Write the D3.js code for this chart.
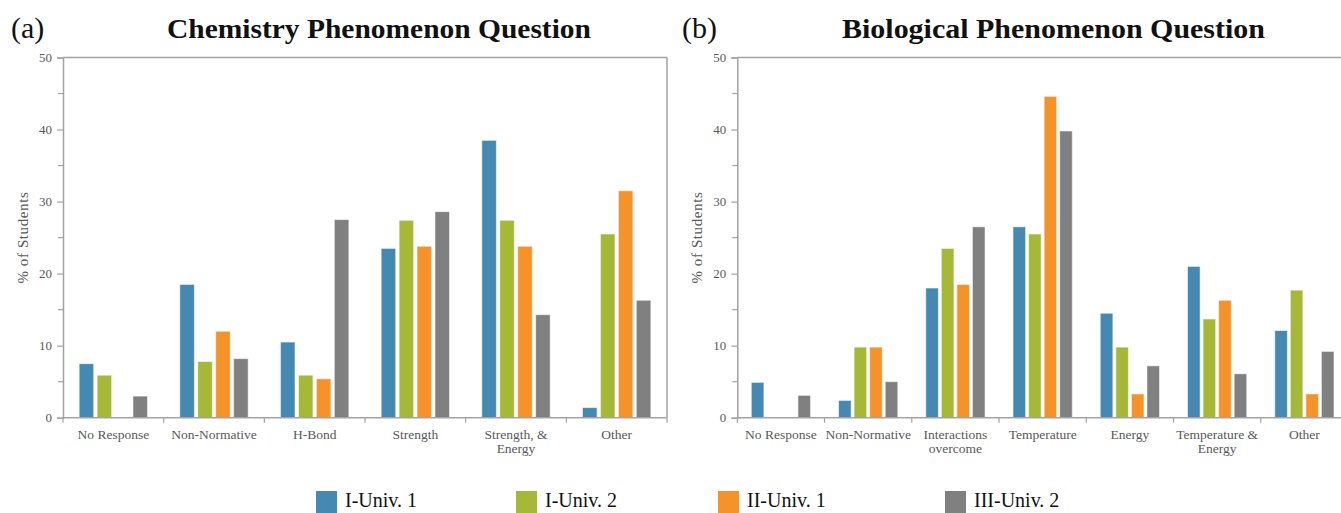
<!DOCTYPE html>
<html><head><meta charset="utf-8">
<script src="https://cdn.jsdelivr.net/npm/d3@7"></script>
<style>body{margin:0;background:#fff}svg{display:block}</style>
</head><body>
<svg id="c" width="1341" height="513"></svg>
<script>
const series = ["I-Univ. 1","I-Univ. 2","II-Univ. 1","III-Univ. 2"];
const colors = ["#4588B1","#A6B838","#F5922A","#808080"];

const chemCategories = [["No Response"],["Non-Normative"],["H-Bond"],["Strength"],["Strength, &","Energy"],["Other"]];
const chemUniv1I  = [7.5, 18.5, 10.5, 23.5, 38.5, 1.4];
const chemUniv2I  = [5.9, 7.8, 5.9, 27.4, 27.4, 25.5];
const chemUniv1II = [0, 12.0, 5.4, 23.8, 23.8, 31.5];
const chemUniv2III= [3.0, 8.2, 27.5, 28.6, 14.3, 16.3];

const bioCategories = [["No Response"],["Non-Normative"],["Interactions","overcome"],["Temperature"],["Energy"],["Temperature &","Energy"],["Other"]];
const bioUniv1I  = [4.9, 2.4, 18.0, 26.5, 14.5, 21.0, 12.1];
const bioUniv2I  = [0, 9.8, 23.5, 25.5, 9.8, 13.7, 17.7];
const bioUniv1II = [0, 9.8, 18.5, 44.6, 3.3, 16.3, 3.3];
const bioUniv2III= [3.1, 5.0, 26.5, 39.8, 7.2, 6.1, 9.2];

const yTicks = [0,10,20,30,40,50];
const yMinor = [5,15,25,35,45];

const svg = d3.select("#c");
const axisCol = "#A3A3A3";
const txtCol = "#595959";
const serif = "Liberation Serif, DejaVu Serif, serif";

function panel(opts){
  const {left,right,top,bottom,cats,vals,title,tag,tagX,titleX,titleW} = opts;
  const g = svg.append("g").attr("font-family",serif);
  const y = d3.scaleLinear().domain([0,50]).range([bottom,top]);
  const x0 = d3.scaleBand().domain(d3.range(cats.length)).range([left,right]).padding(0);
  const x1 = d3.scaleBand().domain(d3.range(series.length)).range([0,x0.bandwidth()]).paddingInner(0.19).paddingOuter(0.9);

  g.append("line").attr("x1",left).attr("x2",right).attr("y1",top).attr("y2",top).attr("stroke",axisCol).attr("stroke-width",1.5);
  g.append("line").attr("x1",right).attr("x2",right).attr("y1",top).attr("y2",bottom).attr("stroke",axisCol).attr("stroke-width",1.5);

  cats.forEach((c,i)=>{
    vals.forEach((arr,s)=>{
      const v = arr[i];
      if(v<=0) return;
      g.append("rect")
        .attr("x", x0(i)+x1(s))
        .attr("y", y(v))
        .attr("width", x1.bandwidth())
        .attr("height", y(0)-y(v))
        .attr("fill", colors[s])
        .attr("stroke","rgba(255,255,255,0.55)")
        .attr("stroke-width",1);
    });
  });

  const ya = d3.axisLeft(y).tickValues(yTicks).tickSize(6).tickPadding(5);
  const yg = g.append("g").attr("transform",`translate(${left},0)`).call(ya)
    .attr("font-family",serif).attr("font-size",13);
  yg.select(".domain").attr("stroke",axisCol).attr("stroke-width",1.5);
  yg.selectAll(".tick line").attr("stroke",axisCol).attr("stroke-width",1.2);
  yg.selectAll(".tick text").attr("fill",txtCol);
  yMinor.forEach(m=>{
    g.append("line").attr("x1",left-5).attr("x2",left).attr("y1",y(m)).attr("y2",y(m)).attr("stroke",axisCol).attr("stroke-width",1.2);
  });

  g.append("line").attr("x1",left).attr("x2",right).attr("y1",bottom).attr("y2",bottom).attr("stroke",axisCol).attr("stroke-width",1.5);
  d3.range(cats.length+1).forEach(i=>{
    const xx = left + i*x0.step();
    g.append("line").attr("x1",xx).attr("x2",xx).attr("y1",bottom).attr("y2",bottom+5).attr("stroke",axisCol).attr("stroke-width",1.2);
  });
  cats.forEach((c,i)=>{
    const t = g.append("text").attr("x",x0(i)+x0.bandwidth()/2).attr("y",bottom+21)
      .attr("text-anchor","middle").attr("fill",txtCol).attr("font-size",13.5);
    c.forEach((line,k)=>{
      t.append("tspan").attr("x",x0(i)+x0.bandwidth()/2).attr("dy",k===0?0:14.5).text(line);
    });
  });

  g.append("text").attr("transform",`translate(${left-35},${(top+bottom)/2}) rotate(-90)`)
    .attr("text-anchor","middle").attr("fill",txtCol).attr("font-size",15)
    .attr("letter-spacing",0.6).text("% of Students");

  g.append("text").attr("x",titleX).attr("y",38).attr("fill","#111")
    .attr("textLength",titleW).attr("lengthAdjust","spacingAndGlyphs")
    .attr("font-weight","bold").attr("font-size",28).text(title);
  g.append("text").attr("x",tagX).attr("y",38).attr("fill","#111")
    .attr("font-size",30).text(tag);
}

panel({left:63,right:667,top:57.5,bottom:417.7,cats:chemCategories,
  vals:[chemUniv1I,chemUniv2I,chemUniv1II,chemUniv2III],
  title:"Chemistry Phenomenon Question",tag:"(a)",tagX:11,titleX:167,titleW:424});
panel({left:737.3,right:1348,top:57.5,bottom:417.7,cats:bioCategories,
  vals:[bioUniv1I,bioUniv2I,bioUniv1II,bioUniv2III],
  title:"Biological Phenomenon Question",tag:"(b)",tagX:682,titleX:842,titleW:423});

const legX = [316,516,718,945];
const lg = svg.append("g").attr("font-family",serif);
series.forEach((s,i)=>{
  lg.append("rect").attr("x",legX[i]).attr("y",491).attr("width",21).attr("height",24).attr("fill",colors[i]);
  lg.append("text").attr("x",legX[i]+29).attr("y",507).attr("fill","#111")
    .attr("font-size",20).text(s);
});
</script>
</body></html>
